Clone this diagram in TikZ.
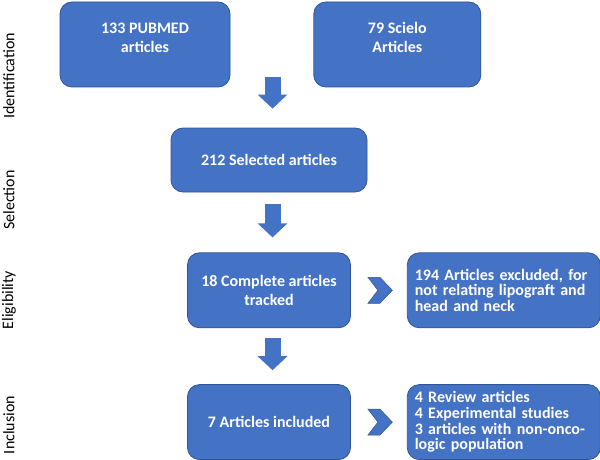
\documentclass[tikz,border=0pt]{standalone}
\usepackage{fontspec}
\setmainfont{Carlito}
\usetikzlibrary{positioning,calc,arrows.meta}
\definecolor{boxblue}{HTML}{4472C4}
\definecolor{edgeblue}{HTML}{2F5597}
\newcommand{\spreadline}[1]{\makebox[178pt][s]{#1}}

\begin{document}
\begin{tikzpicture}[
  x=1pt, y=-1pt,
  stagebox/.style={draw=edgeblue, line width=0.8pt, fill=boxblue, rounded corners=12pt,
    text=white, font=\bfseries\fontsize{16}{19}\selectfont, align=center, inner sep=0pt},
  stagetext/.style={text=white, font=\bfseries\fontsize{16}{19}\selectfont, align=center, inner sep=0pt},
  listbox/.style={stagebox, text width=178pt, inner xsep=7.5pt, align=left,
    font=\bfseries\fontsize{16}{15.7}\selectfont, minimum height=75pt},
  stagelabel/.style={rotate=90, font=\fontsize{16}{19}\selectfont, text=black},
  downarrow/.style={draw=boxblue, line width=16pt, -{Triangle[width=29pt,length=14pt]}},
  chevron/.style={fill=boxblue, draw=edgeblue, line width=0.5pt}
]
\useasboundingbox (0,0) rectangle (600,460);

\node[stagelabel] (idlab) at (9,76) {Identification};
\node[stagelabel] (sellab) at (9,200) {Selection};
\node[stagelabel] (elilab) at (9,300) {Eligibility};
\node[stagelabel] (inclab) at (9,425) {Inclusion};

\node[stagebox, minimum width=170pt, minimum height=85pt] (pubmed) at (145,44.5) {};
\node[stagebox, minimum width=167pt, minimum height=85pt, right=83pt of pubmed] (scielo) {};
\node[stagetext, below=21pt of pubmed.north] (pubmedtxt) {133 PUBMED\\articles};
\node[stagetext, below=20pt of scielo.north] (scielotxt) {79 Scielo\\Articles};

\node[stagebox, minimum width=196pt, minimum height=64pt] (select) at (269,160) {212 Selected articles};
\node[stagebox, minimum width=163pt, minimum height=75pt, below=60pt of select] (track) {18 Complete articles\\tracked};
\node[listbox, right=56pt of track] (excl) {\spreadline{194 Articles excluded, for}\\
  \spreadline{not relating lipograft and}\\ head and neck};
\node[stagebox, minimum width=163pt, minimum height=75pt, below=56pt of track] (incl) {7 Articles included};
\node[listbox, right=56pt of incl] (types) {4 Review articles\\ 4 Experimental studies\\
  \spreadline{3 articles with non-onco-}\\ logic population};

\coordinate (merge) at (272.5,77);
\draw[downarrow, shorten >=19pt] (merge) -- (select.north -| merge);
\draw[downarrow, shorten <=12pt, shorten >=15pt] (select.south -| merge) -- (track.north -| merge);
\draw[downarrow, shorten <=10pt, shorten >=14pt] (track.south -| merge) -- (incl.north -| merge);

\path[chevron] ($(track.east)!0.5!(excl.west)$) ++(-11,-13) -- ++(12,0) -- ++(12.5,13)
  -- ++(-12.5,13) -- ++(-12,0) -- ++(10,-13) -- cycle;
\path[chevron] ($(incl.east)!0.5!(types.west)$) ++(-11,-13) -- ++(12,0) -- ++(12.5,13)
  -- ++(-12.5,13) -- ++(-12,0) -- ++(10,-13) -- cycle;

\end{tikzpicture}
\end{document}
